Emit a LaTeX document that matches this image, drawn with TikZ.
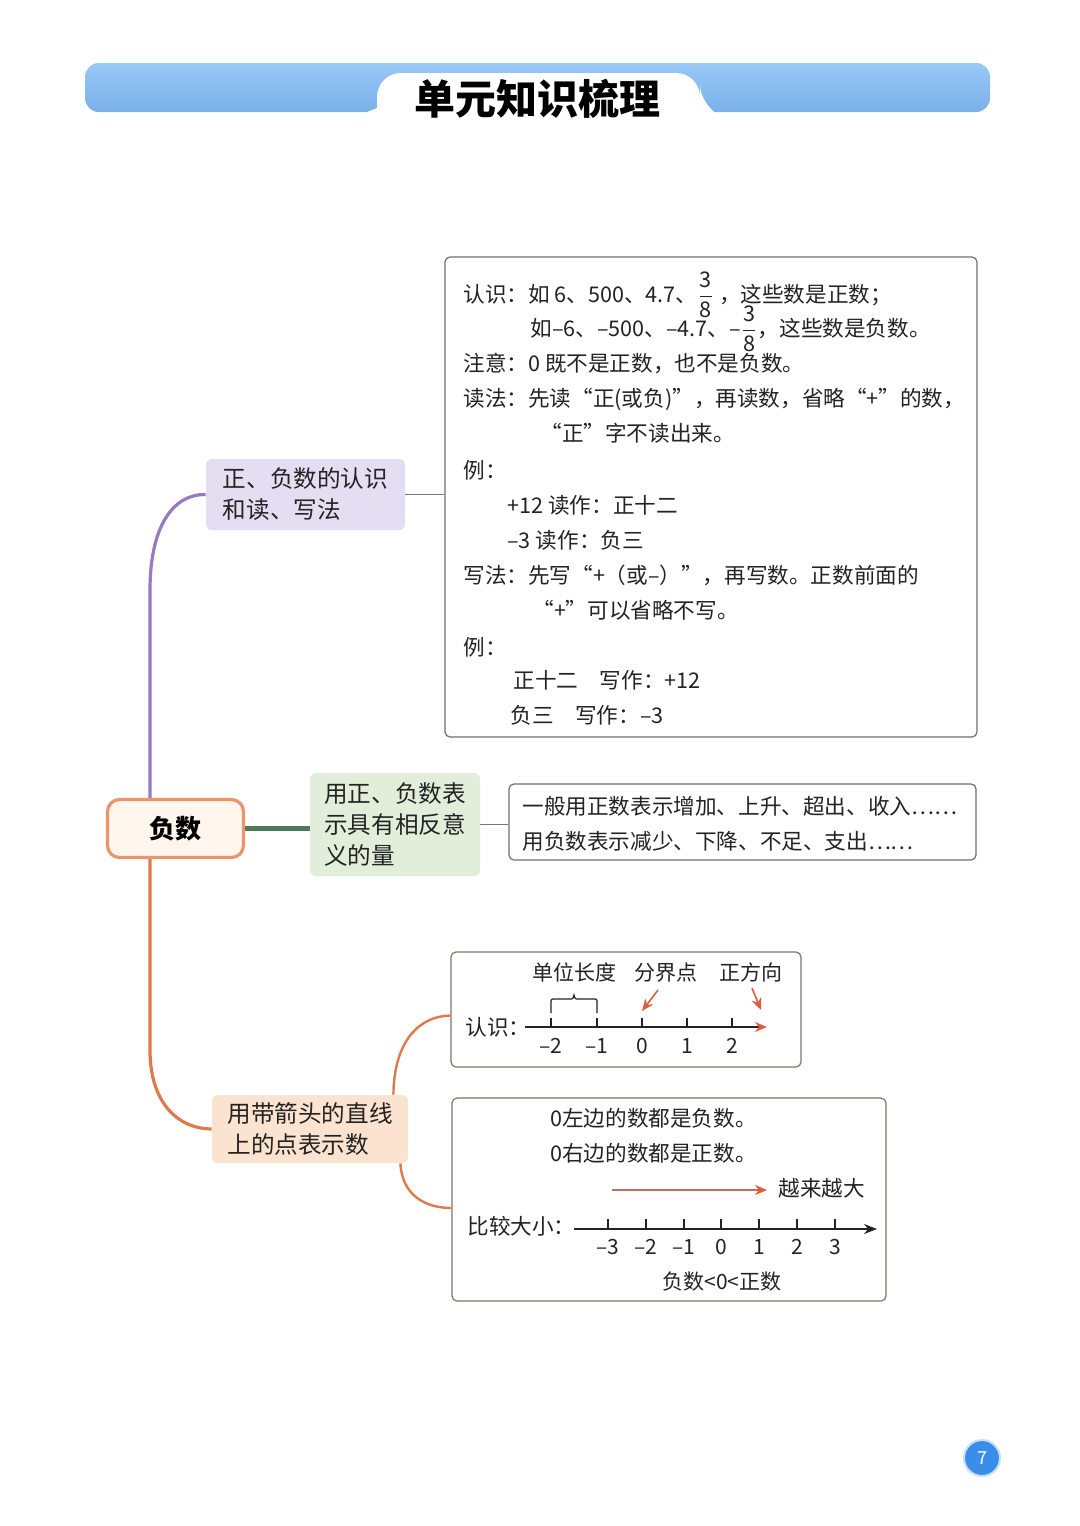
\documentclass[tikz,border=0pt]{standalone}
\usepackage{fontspec}
\setmainfont{Noto Sans CJK SC}
\usetikzlibrary{arrows.meta}
\definecolor{barblue}{RGB}{140,190,240}
\definecolor{bartop}{RGB}{152,200,246}
\definecolor{barbot}{RGB}{122,176,234}
\definecolor{boxgray}{RGB}{112,112,112}
\definecolor{boxbrown}{RGB}{125,116,112}
\definecolor{purpfill}{RGB}{229,221,241}
\definecolor{purpline}{RGB}{152,122,194}
\definecolor{greenfill}{RGB}{226,238,218}
\definecolor{greenline}{RGB}{80,122,88}
\definecolor{orfill}{RGB}{251,227,207}
\definecolor{orline}{RGB}{224,122,76}
\definecolor{orborder}{RGB}{233,150,108}
\definecolor{cream}{RGB}{255,246,238}
\definecolor{arrred}{RGB}{226,92,60}
\definecolor{badge}{RGB}{58,142,232}
\definecolor{txt}{RGB}{35,35,35}
\definecolor{conngray}{RGB}{120,120,120}
\begin{document}
\begin{tikzpicture}[x=0.5pt,y=-0.5pt,
  body/.style={font=\fontsize{10.8}{13}\selectfont, text=txt, inner sep=0pt, anchor=base west},
  lbl/.style={font=\fontsize{10.5}{12}\selectfont, text=txt, inner sep=0pt, anchor=base},
  infobox/.style={draw=boxgray, line width=0.6pt, rounded corners=2.5pt, fill=white},
  topic/.style={rounded corners=3pt, align=left, font=\fontsize{11.8}{15.5}\selectfont, text=txt, inner sep=0pt},
  tickline/.style={line width=0.6pt, draw=txt},
  numline/.style={line width=0.7pt, draw=txt},
  redarrow/.style={line width=0.8pt, draw=arrred, -{Stealth[length=6pt,width=5pt]}},
  conn/.style={line width=0.8pt, draw=conngray}
]
\useasboundingbox (0,0) rectangle (1080,1526);
\fill[white] (0,0) rectangle (1080,1526);

% header bar
\shade[top color=bartop, bottom color=barbot, rounded corners=7pt] (85,63) rectangle (990,112);
\fill[white] (362,114) -- (377,108) [rounded corners=12pt] -- (377,73) -- (700,73) -- (700,108) [sharp corners] -- (715,114) -- cycle;
\node[font=\bfseries\fontsize{20.5}{22}\selectfont, text=black, inner sep=0pt] (title) at (537,99) {单元知识梳理};

% central node
\node[draw=orborder, line width=1.6pt, fill=cream, rounded corners=6pt, minimum width=68pt, minimum height=29pt, font=\bfseries\fontsize{13}{15}\selectfont, text=black] (fs) at (175.5,828.5) {负数};

% topic nodes
\node[topic, fill=purpfill, minimum width=99.5pt, minimum height=35.5pt] (pn) at (305.5,494.5) {正、负数的认识\\和读、写法};
\node[topic, fill=greenfill, minimum width=85pt, minimum height=51.5pt] (gn) at (395,824.5) {用正、负数表\\示具有相反意\\义的量};
\node[topic, fill=orfill, minimum width=98pt, minimum height=34pt] (on) at (310,1129) {用带箭头的直线\\上的点表示数};

% info boxes
\node[infobox, minimum width=266pt, minimum height=240pt] (b1) at (711,497) {};
\node[infobox, minimum width=233.5pt, minimum height=38pt] (b2) at (742.5,822) {};
\node[infobox, draw=boxbrown, minimum width=175pt, minimum height=57.5pt] (b3) at (626,1009.5) {};
\node[infobox, draw=boxbrown, minimum width=217pt, minimum height=101.5pt] (b4) at (669,1199.5) {};

% connectors
\draw[purpline, line width=1.6pt] ([xshift=-12.75pt]fs.north) -- (150,590) .. controls (150,528) and (172,494) .. (pn.west);
\draw[orline, line width=1.6pt] ([xshift=-12.75pt]fs.south) -- (150,1050) .. controls (150,1105) and (180,1129) .. (on.west);
\draw[greenline, line width=2.2pt] (fs.east) -- (fs.east -| gn.west);
\draw[conn] (pn.east) -- (pn.east -| b1.west);
\draw[conn] (gn.east) -- (gn.east -| b2.west);
\draw[orline, line width=1.2pt] ([xshift=-7.5pt]on.north east) .. controls (394,1040) and (420,1016) .. ([yshift=-3pt]b3.west);
\draw[orline, line width=1.2pt] ([xshift=-4pt]on.south east) .. controls (402,1195) and (425,1208) .. ([yshift=-4.25pt]b4.west);

% box 1 text
\node[body] (l1) at (463,302) {认识：如 6、500、4.7、$\displaystyle\frac{\mbox{3}}{\mbox{8}}$ ，这些数是正数；};
\node[body] (l2) at (530,336) {如–6、–500、–4.7、–$\displaystyle\frac{\mbox{3}}{\mbox{8}}$，这些数是负数。};
\node[body] (l3) at (463,371) {注意：0 既不是正数，也不是负数。};
\node[body] (l4) at (463,406) {读法：先读“正(或负)”，再读数，省略“+”的数，};
\node[body] (l5) at (540,441) {“正”字不读出来。};
\node[body] (l6) at (463,478) {例：};
\node[body] (l7) at (507,513) {+12 读作：正十二};
\node[body] (l8) at (507,548) {–3 读作：负三};
\node[body] (l9) at (463,583) {写法：先写“+（或–）”，再写数。正数前面的};
\node[body] (l10) at (532,618) {“+”可以省略不写。};
\node[body] (l11) at (463,655) {例：};
\node[body] (l12) at (513,688) {正十二\hspace{1em}写作：+12};
\node[body] (l13) at (510,723) {负三\hspace{1em}写作：–3};

% box 2 text
\node[body] (m1) at (522,814) {一般用正数表示增加、上升、超出、收入……};
\node[body] (m2) at (522,849) {用负数表示减少、下降、不足、支出……};

% box 3
\node[lbl] (dw) at (574,980) {单位长度};
\node[lbl] (fj) at (666,980) {分界点};
\node[lbl] (zf) at (751,980) {正方向};
\node[body] (rs) at (465,1035) {认识：};
\coordinate (n1s) at (525,1027);
\coordinate (n1e) at (767,1027);
\draw[numline, -{Stealth[length=6pt,width=5pt,color=arrred]}] (n1s) -- (n1e);
\foreach \x in {551,597,642,687,732} \draw[tickline] (\x,1018) -- (\x,1027);
\foreach \x/\l in {551/–2,597/–1,642/0,687/1,732/2} \node[lbl] (na\x) at (\x,1053) {\l};
\draw[tickline] (551,1013) -- (551,1003) .. controls (551,999) .. (555,999) -- (569,999) .. controls (573,999) .. (574,995) .. controls (575,999) .. (579,999) -- (593,999) .. controls (597,999) .. (597,1003) -- (597,1013);
\coordinate (fjt) at (642,1011);
\coordinate (zft) at (761,1010);
\draw[redarrow] (658,990) -- (fjt);
\draw[redarrow] (752,988) -- (zft);

% box 4
\node[body] (c1) at (550,1126) {0左边的数都是负数。};
\node[body] (c2) at (550,1161) {0右边的数都是正数。};
\coordinate (r1s) at (612,1190);
\coordinate (r1e) at (767,1190);
\draw[line width=0.7pt, draw={rgb,255:red,190;green,110;blue,100}, -{Stealth[length=6pt,width=5pt,color=arrred]}] (r1s) -- (r1e);
\node[body] (ylyd) at (778,1196) {越来越大};
\node[body] (bjdx) at (467,1234) {比较大小：};
\coordinate (n2s) at (574,1229);
\coordinate (n2e) at (877,1229);
\draw[numline, -{Stealth[length=6.5pt,width=5pt]}] (n2s) -- (n2e);
\foreach \x in {608,646,684,721,759,797,835} \draw[tickline] (\x,1219) -- (\x,1229);
\foreach \x/\l in {608/–3,646/–2,684/–1,721/0,759/1,797/2,835/3} \node[lbl] (nb\x) at (\x,1254) {\l};
\node[lbl] (cmp) at (722,1289) {负数<0<正数};

% page badge
\node[circle, fill=badge, draw={rgb,255:red,200;green,225;blue,250}, line width=1pt, minimum size=18pt, inner sep=0pt, text=white, font=\fontsize{9}{10}\selectfont] (pg) at (982,1458) {7};
\end{tikzpicture}
\end{document}
